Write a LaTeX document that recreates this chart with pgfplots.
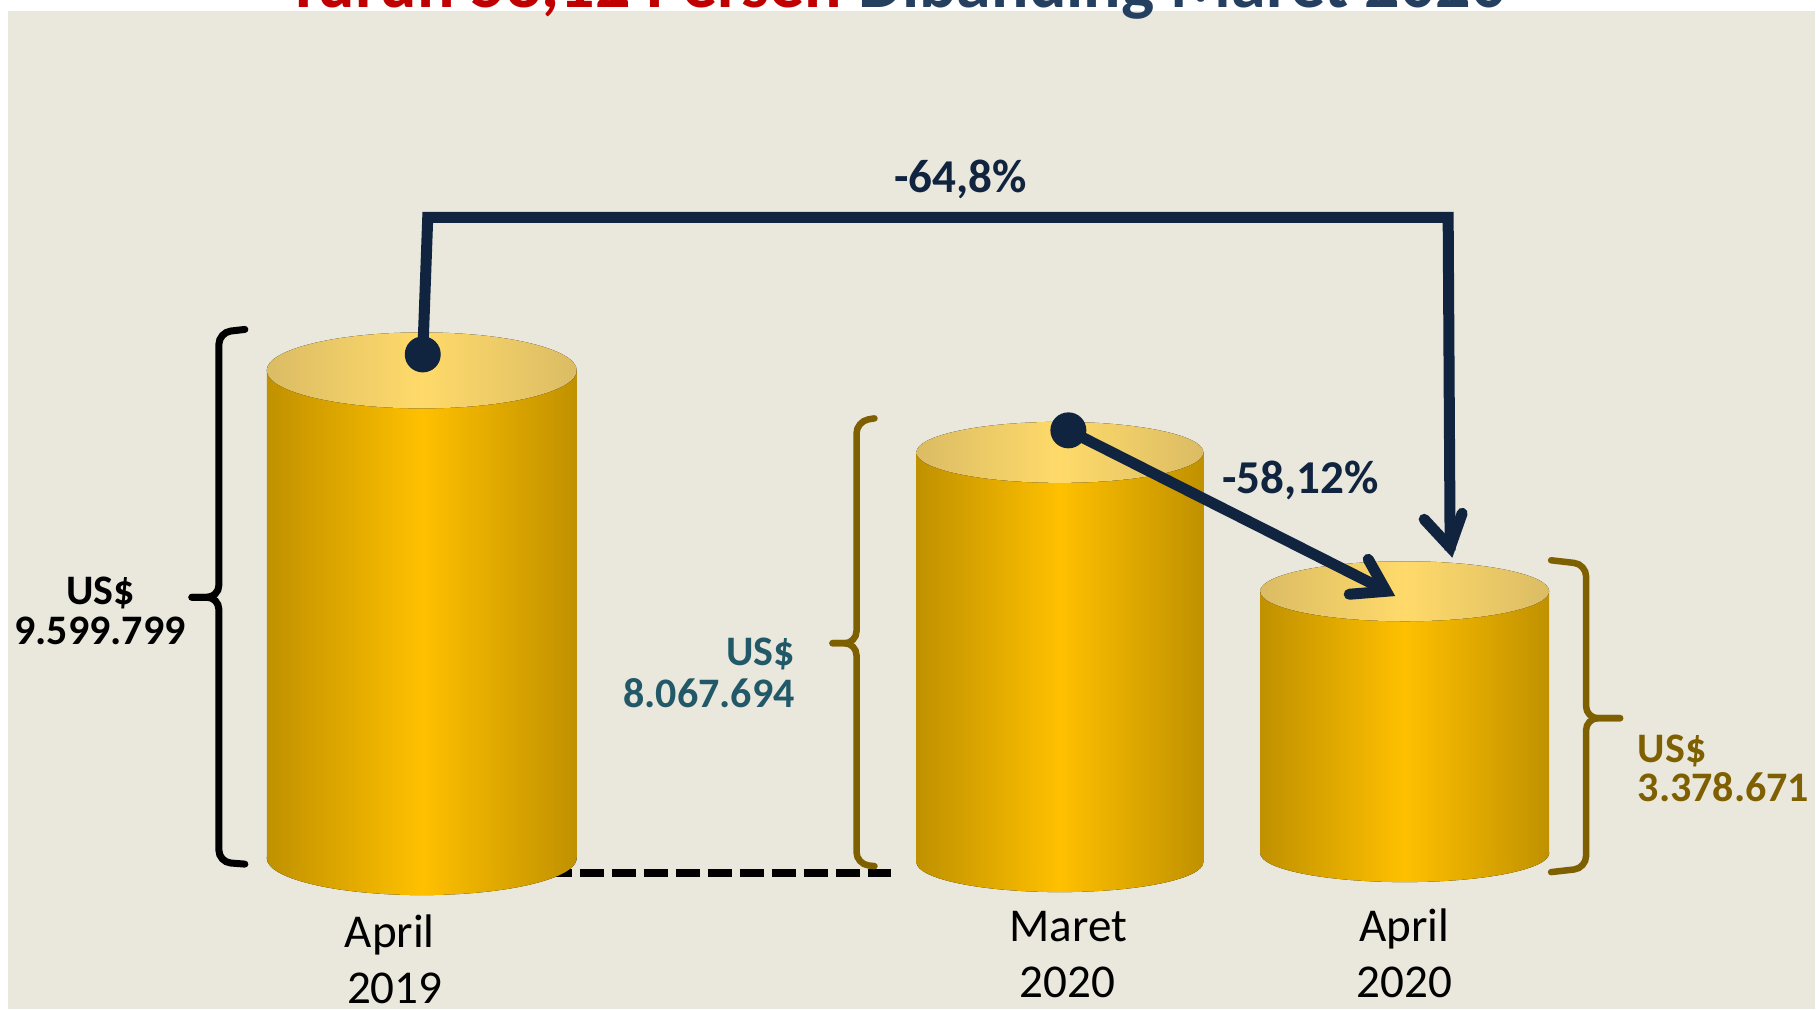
\documentclass[border=0pt]{standalone}
\usepackage{pgfplots}
\pgfplotsset{compat=1.18}
\usepackage{fontspec}
\setmainfont{Carlito}
\definecolor{bg}{HTML}{EAE7DC}
\definecolor{navy}{HTML}{10243F}
\definecolor{titlered}{HTML}{C00000}
\definecolor{titleblue}{HTML}{243F60}
\definecolor{tealc}{HTML}{215968}
\definecolor{brownc}{HTML}{7F6000}
\definecolor{sideE}{HTML}{C09100}
\definecolor{sideM}{HTML}{FFC000}
\definecolor{topE}{HTML}{DBBC64}
\definecolor{topM}{HTML}{FFDA6A}
\newcommand{\valfont}{\fontsize{11.95}{14}\selectfont\bfseries}
\newcommand{\pctfont}{\fontsize{13.4}{16}\selectfont\bfseries}
\newcommand{\catfont}{\fontsize{13.4}{16}\selectfont}
\begin{document}
\begin{tikzpicture}
\begin{axis}[x=0.01cm, y=0.01cm, xmin=0, xmax=1816, ymin=0, ymax=1009,
  y dir=reverse, hide axis, clip=false]
% background
\fill[white] (axis cs:0,0) rectangle (axis cs:1816,1009);
\fill[bg] (axis cs:8,10) rectangle (axis cs:1816,1009);
% title (cut at top)
\node[anchor=base, inner sep=0pt, font=\fontsize{19.9}{24}\selectfont\bfseries] at (axis cs:897,7)
  {\textcolor{titlered}{Turun 58,12 Persen} \textcolor{titleblue}{Dibanding Maret 2020}};
% dashed baseline
\draw[black, line width=0.08cm, dash pattern=on 0.24cm off 0.08cm] (axis cs:548,872.5) -- (axis cs:892,872.5);
% braces
\draw[black, line width=0.07cm, rounded corners=0.12cm, line cap=round]
  (axis cs:245,329) -- (axis cs:219,332) -- (axis cs:219,597) -- (axis cs:192,597);
\draw[black, line width=0.07cm, rounded corners=0.12cm, line cap=round]
  (axis cs:192,597) -- (axis cs:219,597) -- (axis cs:219,862) -- (axis cs:245,864);
\draw[brownc, line width=0.065cm, rounded corners=0.12cm, line cap=round]
  (axis cs:875,418) -- (axis cs:857,421) -- (axis cs:857,643) -- (axis cs:833,643);
\draw[brownc, line width=0.065cm, rounded corners=0.12cm, line cap=round]
  (axis cs:833,643) -- (axis cs:857,643) -- (axis cs:857,864) -- (axis cs:875,866);
\draw[brownc, line width=0.065cm, rounded corners=0.12cm, line cap=round]
  (axis cs:1552,560) -- (axis cs:1587,564) -- (axis cs:1587,718) -- (axis cs:1621,718);
\draw[brownc, line width=0.065cm, rounded corners=0.12cm, line cap=round]
  (axis cs:1621,718) -- (axis cs:1587,718) -- (axis cs:1587,868) -- (axis cs:1552,872);
% cylinder 1: April 2019
\fill[left color=sideE, right color=sideE, middle color=sideM] (axis cs:422,858) ellipse [x radius=1.55cm, y radius=0.37cm];
\addplot[draw=none, left color=sideE, right color=sideE, middle color=sideM] coordinates {(267,370) (577,370) (577,858) (267,858)};
\fill[left color=topE, right color=topE, middle color=topM] (axis cs:422,370) ellipse [x radius=1.55cm, y radius=0.38cm];
% cylinder 2: Maret 2020
\fill[left color=sideE, right color=sideE, middle color=sideM] (axis cs:1060.5,862) ellipse [x radius=1.435cm, y radius=0.30cm];
\addplot[draw=none, left color=sideE, right color=sideE, middle color=sideM] coordinates {(917,452) (1204,452) (1204,862) (917,862)};
\fill[left color=topE, right color=topE, middle color=topM] (axis cs:1060.5,452) ellipse [x radius=1.435cm, y radius=0.305cm];
% cylinder 3: April 2020
\fill[left color=sideE, right color=sideE, middle color=sideM] (axis cs:1405.5,853) ellipse [x radius=1.445cm, y radius=0.29cm];
\addplot[draw=none, left color=sideE, right color=sideE, middle color=sideM] coordinates {(1261,591) (1550,591) (1550,853) (1261,853)};
\fill[left color=topE, right color=topE, middle color=topM] (axis cs:1405.5,591) ellipse [x radius=1.445cm, y radius=0.30cm];
% arrow 1 (-64,8%)
\draw[navy, line width=0.11cm, line join=miter] (axis cs:423,354) -- (axis cs:428,217) -- (axis cs:1449,217) -- (axis cs:1451,550);
\draw[navy, line width=0.11cm, line cap=round, line join=miter, miter limit=4] (axis cs:1425,519) -- (axis cs:1451,547) -- (axis cs:1463,513);
\fill[navy] (axis cs:423,354) circle [radius=0.18cm];
% arrow 2 (-58,12%)
\draw[navy, line width=0.11cm] (axis cs:1069,430) -- (axis cs:1386,590);
\draw[navy, line width=0.11cm, line cap=round, line join=miter, miter limit=4] (axis cs:1350,594) -- (axis cs:1387,591) -- (axis cs:1369,559);
\fill[navy] (axis cs:1069,430) circle [radius=0.18cm];
% percentage labels
\node[anchor=base, inner sep=0pt, navy, font=\pctfont] at (axis cs:961,192) {-64,8\%};
\node[anchor=base, inner sep=0pt, navy, font=\pctfont] at (axis cs:1301,493) {-58,12\%};
% value labels
\node[anchor=base, inner sep=0pt, black, font=\valfont] at (axis cs:100.5,604) {US\$};
\node[anchor=base, inner sep=0pt, black, font=\valfont] at (axis cs:100,644) {9.599.799};
\node[anchor=base east, inner sep=0pt, tealc, font=\valfont] at (axis cs:796,665) {US\$};
\node[anchor=base east, inner sep=0pt, tealc, font=\valfont] at (axis cs:796,707) {8.067.694};
\node[anchor=base west, inner sep=0pt, brownc, font=\valfont] at (axis cs:1638,762) {US\$};
\node[anchor=base west, inner sep=0pt, brownc, font=\valfont] at (axis cs:1638,801) {3.378.671};
% category labels
\node[anchor=base, inner sep=0pt, black, font=\catfont] at (axis cs:390,947) {April};
\node[anchor=base, inner sep=0pt, black, font=\catfont] at (axis cs:395,1003) {2019};
\node[anchor=base, inner sep=0pt, black, font=\catfont] at (axis cs:1069,941) {Maret};
\node[anchor=base, inner sep=0pt, black, font=\catfont] at (axis cs:1068,997) {2020};
\node[anchor=base, inner sep=0pt, black, font=\catfont] at (axis cs:1405,941) {April};
\node[anchor=base, inner sep=0pt, black, font=\catfont] at (axis cs:1405,997) {2020};
\end{axis}
\pgfresetboundingbox
\useasboundingbox (0,0) rectangle (18.16,10.09);
\end{tikzpicture}
\end{document}
